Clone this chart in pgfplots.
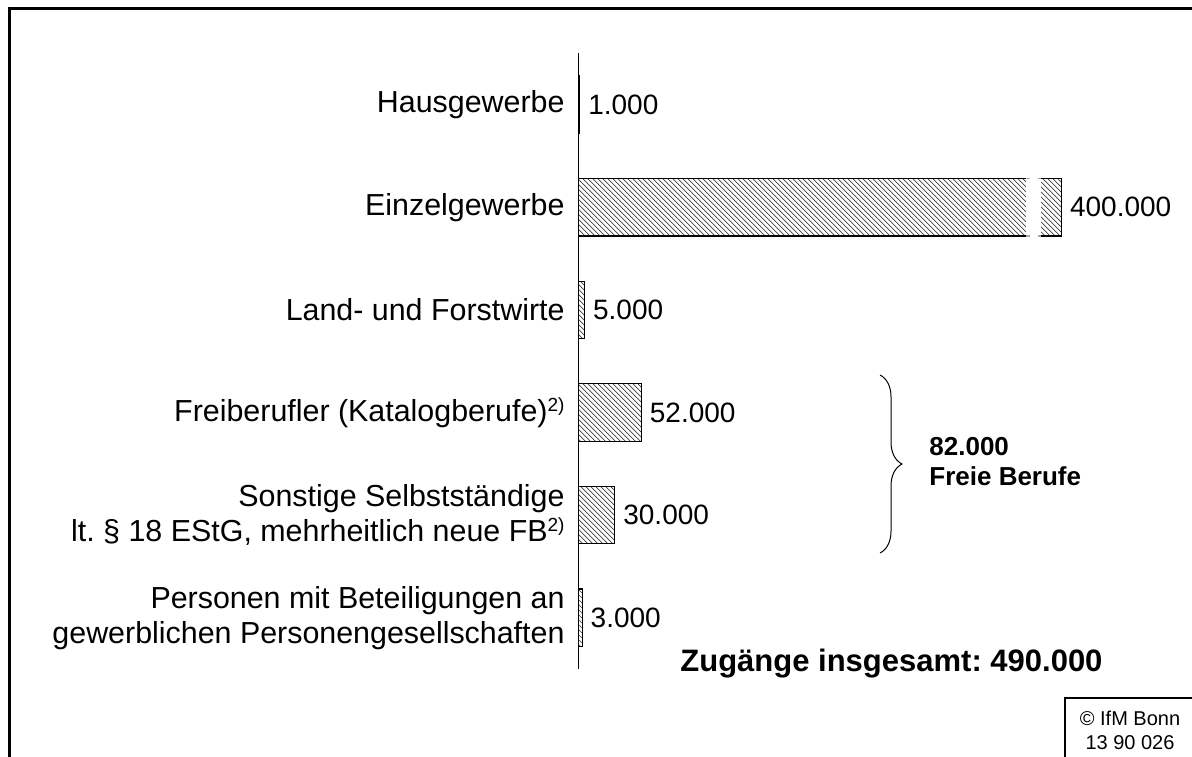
\documentclass[border=0pt]{standalone}
\usepackage{pgfplots}
\pgfplotsset{compat=1.18}
\usepackage{pgfplotstable}
\usepackage{fontspec}
\setmainfont{Liberation Sans}
\usetikzlibrary{patterns,decorations.pathreplacing}
\frenchspacing
\newcommand{\sups}[1]{\raisebox{0.33em}{\fontsize{9.5}{9.5}\selectfont #1}}

\pgfdeclarepatternformonly{hatchnw}{\pgfqpoint{-1pt}{-1pt}}{\pgfqpoint{3.5pt}{3.5pt}}{\pgfqpoint{2.5pt}{2.5pt}}{%
  \pgfsetlinewidth{0.35pt}%
  \pgfpathmoveto{\pgfqpoint{0pt}{2.5pt}}%
  \pgfpathlineto{\pgfqpoint{2.6pt}{-0.1pt}}%
  \pgfusepath{stroke}}

\pgfplotstableread{
pos value
0 1000
1 400000
2 5000
3 52000
4 30000
5 3000
}\datatable

\begin{document}
\begin{tikzpicture}
\useasboundingbox (0,0) rectangle (596pt,-378pt);
\begin{axis}[
  at={(289.25pt,-334.5pt)}, anchor=south west,
  scale only axis, width=301.875pt, height=307.8pt,
  xmin=0, xmax=500000, ymin=-0.5, ymax=5.5, y dir=reverse,
  axis x line=none, axis y line=left,
  axis line style={-, line width=0.6pt},
  xbar, bar width=0.56, bar shift=0pt,
  ytick={0,1,2,3,4,5},
  ytick style={draw=none},
  yticklabels={Hausgewerbe, Einzelgewerbe, Land- und Forstwirte,
    Freiberufler (Katalogberufe)\sups{2)},
    {Sonstige Selbstständige\hspace{4.5pt}\\lt. § 18 EStG, mehrheitlich neue FB\sups{2)}},
    {Personen mit Beteiligungen an\\gewerblichen Personengesellschaften}},
  yticklabel style={font=\fontsize{15.2}{17.5}\selectfont, align=right, inner sep=0pt, xshift=-2.5pt},
  point meta=x,
  nodes near coords={\pgfmathprintnumber[fixed,precision=0,1000 sep={.},assume math mode=true]{\pgfplotspointmeta}},
  nodes near coords style={font=\fontsize{14}{16}\selectfont, anchor=west, inner sep=0pt, xshift=4pt},
  clip=false,
]
\addplot[draw=black, line width=0.6pt, pattern=hatchnw, pattern color=black!75]
  table[x=value,y=pos]{\datatable};
\fill[white] (axis cs:370600,0.69) rectangle (axis cs:383000,1.31);
\draw[gray!70, line width=0.8pt] (axis cs:370600,0.72) -- (axis cs:373700,0.72);
\draw[gray!70, line width=0.8pt] (axis cs:380500,0.72) -- (axis cs:383000,0.72);
\draw[gray!70, line width=0.8pt] (axis cs:370600,1.28) -- (axis cs:373700,1.28);
\draw[gray!70, line width=0.8pt] (axis cs:380500,1.28) -- (axis cs:383000,1.28);
\end{axis}
\begin{scope}[x=0.5pt,y=-0.5pt]
\draw[line width=1.5pt] (9.5,770) -- (9.5,8.5) -- (1210,8.5);
\draw[line width=0.5pt, decorate, decoration={brace, amplitude=11pt}] (880,375) -- (880,553);
\node[anchor=west, align=left, font=\bfseries\fontsize{13}{15}\selectfont, inner sep=0pt] at (929,462) {82.000\\Freie Berufe};
\node[anchor=base west, font=\bfseries\fontsize{15.5}{17}\selectfont, inner sep=0pt] at (680,671) {Zugänge insgesamt: 490.000};
\draw[line width=0.6pt] (1065,770) -- (1065,698) -- (1210,698);
\node[align=center, font=\fontsize{10}{12}\selectfont, inner sep=0pt] at (1130,730) {© IfM Bonn\\13 90 026};
\end{scope}
\end{tikzpicture}
\end{document}
